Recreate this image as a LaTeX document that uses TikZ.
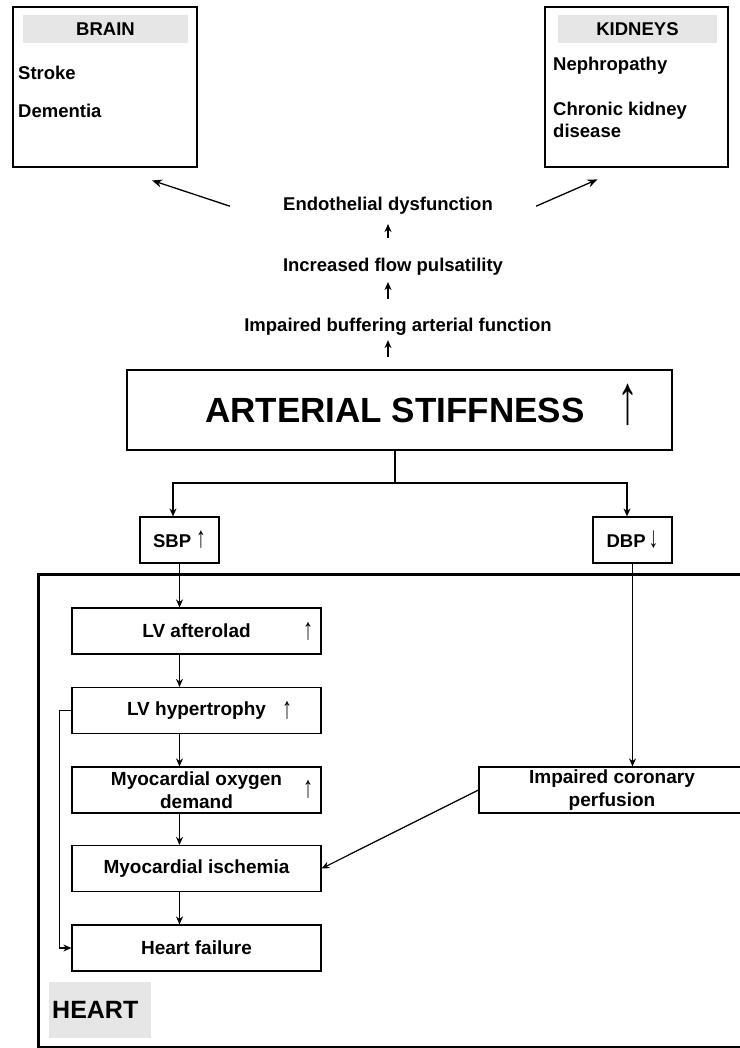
\documentclass[tikz,border=0pt]{standalone}
\usepackage{fontspec}
\setmainfont{Liberation Sans}
\usetikzlibrary{arrows.meta,calc}
\definecolor{hdr}{RGB}{230,230,230}
\newcommand{\fsz}[2]{\fontsize{#1}{#2}\selectfont}
\newcommand{\uarr}{\scalebox{1.05}[1.6]{↑}}
\newcommand{\darrw}{\scalebox{1.05}[1.6]{↓}}
\begin{document}
\begin{tikzpicture}[x=1pt,y=-1pt,
  organ/.style={draw, line width=2.8pt, minimum width=#1, minimum height=160pt, inner sep=0pt},
  hdrbox/.style={fill=hdr, minimum height=28pt, inner sep=0pt, font=\bfseries\fsz{18.5}{22}},
  lbl/.style={font=\bfseries\fsz{18.5}{22}, inner sep=0pt},
  flow/.style={draw, line width=1.2pt, minimum width=249pt, minimum height=46pt, inner sep=0pt, align=center, font=\bfseries\fsz{19}{22.5}},
  conn/.style={line width=1.2pt, -{Stealth[length=8pt,width=7pt]}},
  sarr/.style={line width=1.4pt, -{Stealth[length=8pt,width=7pt]}},
  darr/.style={line width=1.3pt, -{Stealth[length=10pt,width=8pt]}},
  up/.style={font=\bfseries\fsz{19}{22}, inner sep=0pt},
]
\useasboundingbox (0,0) rectangle (739,1048);

% Brain
\node[organ=184pt] (brain) at (105,87) {};
\node[hdrbox, minimum width=165pt] (brainh) at (105.5,29) {BRAIN};
\node[lbl, anchor=base west] (stroke) at (18,80) {Stroke};
\node[lbl, anchor=base west] (dem) at (18,118) {Dementia};

% Kidneys
\node[organ=183pt] (kid) at (636.5,87) {};
\node[hdrbox, minimum width=159pt] (kidh) at (637.5,29) {KIDNEYS};
\node[lbl, anchor=base west] (neph) at (553,71) {Nephropathy};
\node[lbl, anchor=north west, align=left] (ckd) at (553,101.5) {Chronic kidney\\disease};

% chain
\node[lbl, anchor=base] (endo) at (388,211) {Endothelial dysfunction};
\node[lbl, anchor=base] (incr) at (393,272) {Increased flow pulsatility};
\node[lbl, anchor=base] (impb) at (398,331) {Impaired buffering arterial function};

% arterial stiffness
\node[draw, line width=2.8pt, minimum width=545pt, minimum height=80pt, inner sep=0pt] (art) at (399.5,410) {};
\node[anchor=base west, font=\bfseries\fsz{35}{40}, inner sep=0pt] (artt) at (205,422) {ARTERIAL STIFFNESS};
\node[font=\bfseries\fsz{35}{40}, inner sep=0pt] (artup) at (628,405) {\scalebox{1.2}[2.0]{↑}};

\draw[sarr, shorten <=12pt, shorten >=5pt] (art.north -| endo.base) -- (impb.south -| endo.base);
\draw[sarr, shorten <=18.5pt, shorten >=6pt] (impb.north -| endo.base) -- (incr.south -| endo.base);
\draw[sarr, shorten <=20.5pt, shorten >=9pt] (incr.north -| endo.base) -- (endo.south);
\draw[darr] ([xshift=-53pt]endo.west) -- ([xshift=47pt,yshift=-12pt]brain.south);
\draw[darr] ([xshift=43pt]endo.east) -- ([xshift=-39pt,yshift=-11pt]kid.south);

% SBP / DBP
\node[draw, line width=1.2pt, minimum width=79pt, minimum height=46pt, inner sep=0pt, font=\bfseries\fsz{18.5}{22}] (sbp) at (179.5,540) {SBP \uarr};
\node[draw, line width=1.2pt, minimum width=79pt, minimum height=46pt, inner sep=0pt, font=\bfseries\fsz{18.5}{22}] (dbp) at (632.5,540) {DBP\,\darrw};
\coordinate (split) at (395,483);
\draw[line width=1.2pt] (art.south -| split) -- (split);
\draw[conn] (split) -| ([xshift=-6.5pt]sbp.north);
\draw[conn] (split) -| ([xshift=-5.5pt]dbp.north);

% heart
\node[draw, line width=2.8pt, minimum width=708pt, minimum height=472.5pt, inner sep=0pt, anchor=north west] (heart) at (37,573) {};
\node[flow] (lva) at (196.5,631) {LV afterolad};
\node[up] (lvaup) at (308,631) {\uarr};
\node[flow] (lvh) at (196.5,710.5) {LV hypertrophy};
\node[up] (lvhup) at (287,710) {\uarr};
\node[flow] (mod) at (196.5,790) {Myocardial oxygen\\demand};
\node[up] (modup) at (308,789) {\uarr};
\node[flow] (mi) at (196.5,868.5) {Myocardial ischemia};
\node[flow] (hf) at (196.5,948) {Heart failure};
\node[flow, minimum width=266pt] (icp) at (612,790) {Impaired coronary\\perfusion};
\node[fill=hdr, anchor=west, minimum height=56pt, text width=96pt, inner sep=3pt, align=left, font=\bfseries\fsz{25}{30}] (heartl) at (49,1010) {HEART};

\draw[conn] (sbp.south) -- (sbp.south |- lva.north);
\draw[conn] (lva.south -| sbp.south) -- (lvh.north -| sbp.south);
\draw[conn] (lvh.south -| sbp.south) -- (mod.north -| sbp.south);
\draw[conn] (mod.south -| sbp.south) -- (mi.north -| sbp.south);
\draw[conn] (mi.south -| sbp.south) -- (hf.north -| sbp.south);
\draw[conn] (dbp.south) -- (dbp.south |- icp.north);
\draw[conn] (icp.west) -- (mi.east);
\draw[conn] (lvh.west) -- ++(-12,0) |- (hf.west);
\end{tikzpicture}
\end{document}
